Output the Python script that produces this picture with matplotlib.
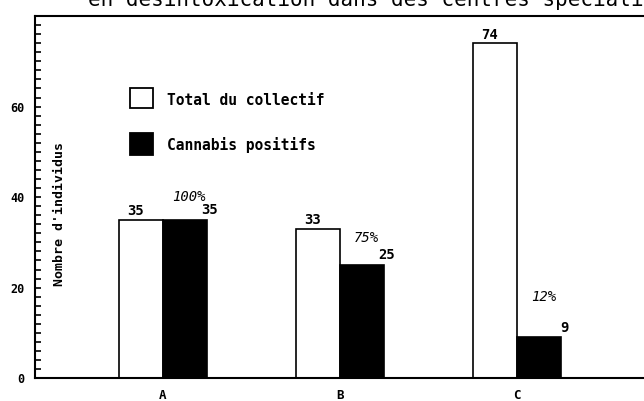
import matplotlib.pyplot as plt
from matplotlib.patches import Rectangle
from matplotlib.ticker import MultipleLocator

# data
groups = ['A', 'B', 'C']
total_collectif = [35, 33, 74]
cannabis_positifs = [35, 25, 9]
pourcentages = ['100%', '75%', '12%']

mono = 'DejaVu Sans Mono'
plt.rcParams['font.family'] = mono

fig = plt.figure(figsize=(6.44, 4.01), dpi=100)
ax = fig.add_axes([0.054, 0.057, 0.946, 0.903])

x = list(range(len(groups)))
w = 0.25
ax.bar([i - w / 2 for i in x], total_collectif, width=w, color='white',
       edgecolor='black', linewidth=1.2)
ax.bar([i + w / 2 for i in x], cannabis_positifs, width=w, color='black',
       edgecolor='black', linewidth=1.2)

# value labels
for i in x:
    ax.annotate(str(total_collectif[i]), (i - w / 2, total_collectif[i]),
                xytext=(-4, 1), textcoords='offset points', ha='center', va='bottom',
                fontsize=10, fontweight='bold')
    ax.annotate(str(cannabis_positifs[i]), (i + w, cannabis_positifs[i]),
                xytext=(2, 2), textcoords='offset points', ha='center', va='bottom',
                fontsize=10, fontweight='bold')

# percentages
pct_offset = [5, 6, 9]
for i in x:
    ax.text(i + 0.15, cannabis_positifs[i] + pct_offset[i], pourcentages[i],
            ha='center', va='center', fontsize=10, style='italic')

ax.set_xlim(-0.723, 2.717)
ax.set_ylim(0, 80)
ax.set_xticks(x)
ax.set_xticklabels(groups, fontsize=9, fontweight='bold')
ax.tick_params(axis='x', length=0, pad=8)

ax.set_yticks([0, 20, 40, 60])
ax.yaxis.set_minor_locator(MultipleLocator(2))
ax.tick_params(axis='y', which='both', direction='in', length=4, width=1.2,
               labelsize=8.5, pad=7.5)
for lab in ax.get_yticklabels():
    lab.set_fontweight('bold')

for side in ['left', 'bottom', 'top']:
    ax.spines[side].set_linewidth(1.5)
ax.spines['right'].set_visible(False)

# y label drawn inside the axes
ax.text(0.041, 0.453, "Nombre d'individus", transform=ax.transAxes, rotation=90,
        ha='center', va='center', fontsize=9.5, fontweight='bold')

# legend drawn by hand
ax.add_patch(Rectangle((0.156, 0.746), 0.038, 0.055, transform=ax.transAxes,
                       facecolor='white', edgecolor='black', linewidth=1.3))
ax.add_patch(Rectangle((0.156, 0.616), 0.038, 0.061, transform=ax.transAxes,
                       facecolor='black', edgecolor='black', linewidth=1.3))
ax.text(0.217, 0.768, 'Total du collectif', transform=ax.transAxes,
        ha='left', va='center', fontsize=10.5, fontweight='bold')
ax.text(0.217, 0.644, 'Cannabis positifs', transform=ax.transAxes,
        ha='left', va='center', fontsize=10.5, fontweight='bold')

# title, cut off by the top of the scan as in the reference
fig.text(0.137, 0.986, 'en désintoxication dans des centres spécialisés',
         ha='left', va='baseline', fontsize=15)

fig.savefig('out.png', dpi=100)
